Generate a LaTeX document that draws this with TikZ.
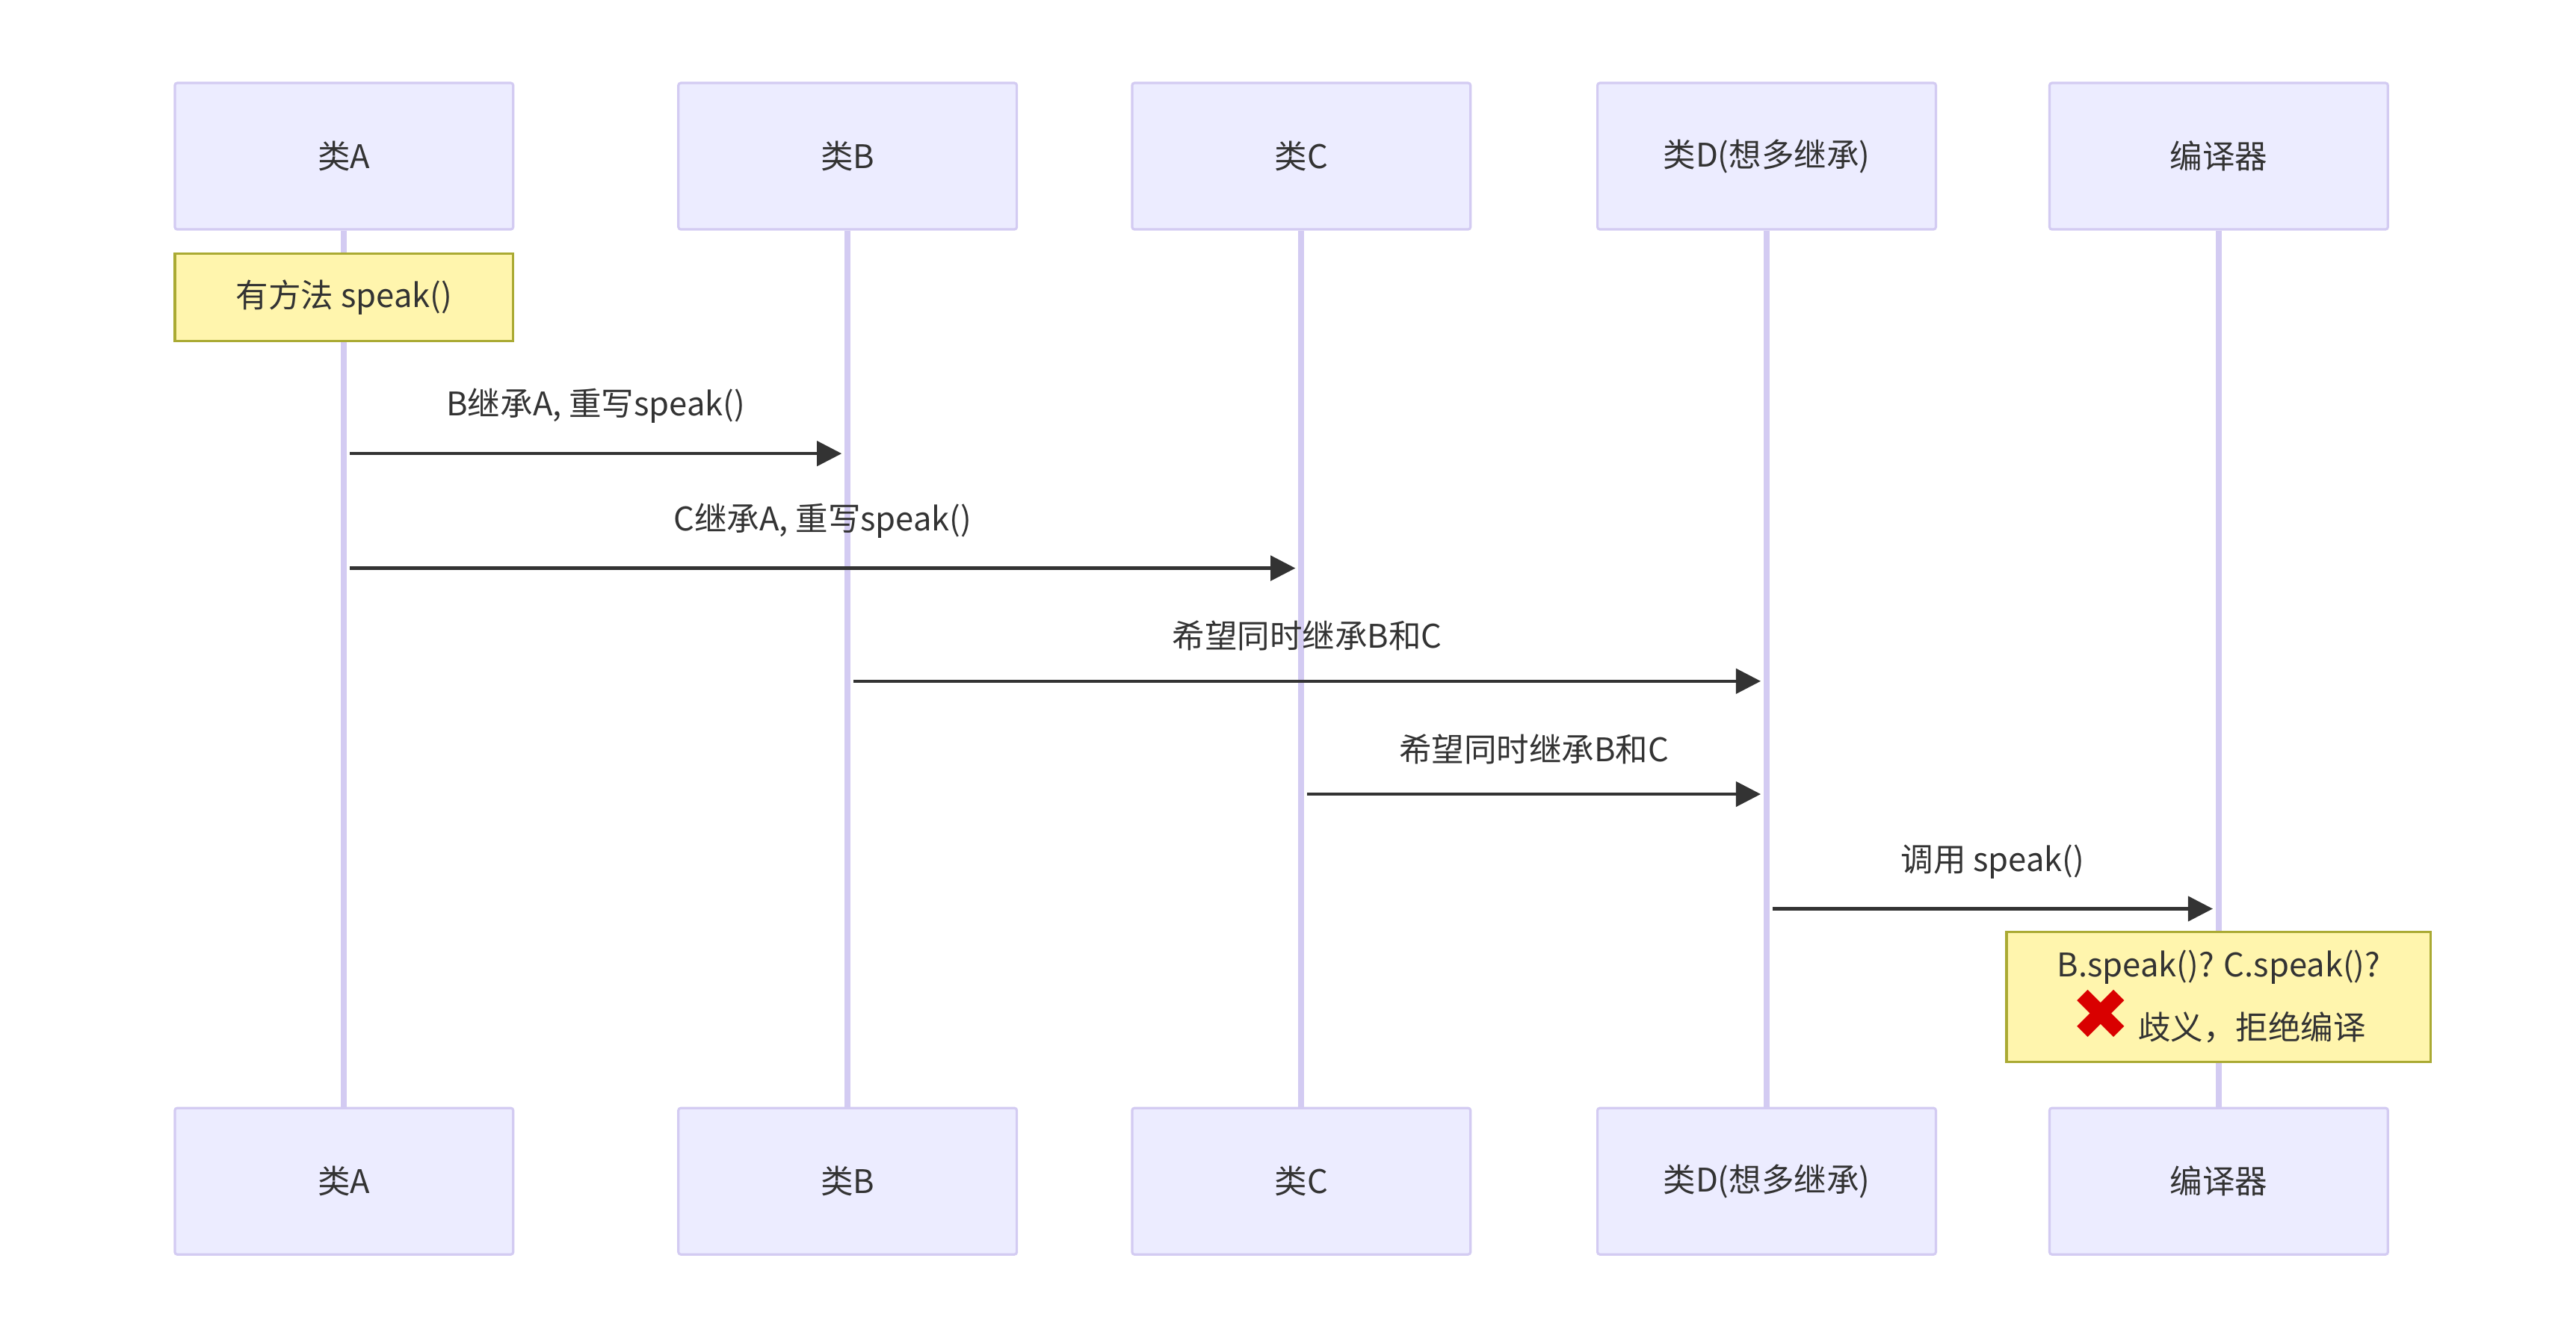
\documentclass[tikz,border=0pt]{standalone}
\usepackage{fontspec}
\setmainfont{Noto Sans CJK SC}
\newfontfamily\symfont{DejaVu Sans}
\usetikzlibrary{arrows.meta}
\definecolor{actfill}{HTML}{ECECFF}
\definecolor{actline}{HTML}{D3CBF2}
\definecolor{notefill}{HTML}{FFF5AD}
\definecolor{noteline}{HTML}{AAAA33}
\definecolor{msgline}{HTML}{333333}
\colorlet{crossred}{red!85!black}

\begin{document}
\begin{tikzpicture}[
            x=0.00987cm, y=-0.00987cm,
            every node/.append style={font=\fontsize{5.5}{7}\selectfont, text=msgline},
            actor/.style={draw=actline, fill=actfill, rounded corners=0.4pt,
                minimum width=2.01cm, minimum height=0.87cm, inner sep=0pt},
            note/.style={draw=noteline, fill=notefill, inner sep=0pt, align=center},
            life/.style={actline, line width=1pt},
            msg/.style={msgline, line width=0.55pt, -{Triangle[length=4.2pt,width=4.2pt]}}
        ]
            \useasboundingbox (0,0) rectangle (1550,798);
            % actors, top and bottom
            \foreach \n/\x/\t in {A/207/类A, B/510/类B, C/783/类C, D/1063/类D(想多继承), E/1335/编译器} {
                \node [actor] (\n top) at (\x,94) {\t};
                \node [actor] (\n bot) at (\x,711) {\t};
                \draw [life] (\n top) -- (\n bot);
            }
            % notes
            \node [note, minimum width=2.01cm, minimum height=0.52cm] (note1) at (207,179) {有方法 speak()};
            % messages
            \foreach \y/\from/\to/\t in {273/A/B/{B继承A, 重写speak()}, 342/A/C/{C继承A, 重写speak()},
                    410/B/D/希望同时继承B和C, 478/C/D/希望同时继承B和C, 547/D/E/调用 speak()} {
                \coordinate (m\from\to s) at (\from top |- 0,\y);
                \coordinate (m\from\to e) at (\to top |- 0,\y);
                \draw [msg] ([xshift=1pt]m\from\to s) -- node[above=1.5pt] {\t} ([xshift=-1pt]m\from\to e);
            }
            \node [note, minimum width=2.52cm, minimum height=0.77cm] (note2) at (1335,600)
                {B.speak()? C.speak()?\\{\symfont\color{crossred}\bfseries\large ✖} 歧义，拒绝编译};
        \end{tikzpicture}
\end{document}
